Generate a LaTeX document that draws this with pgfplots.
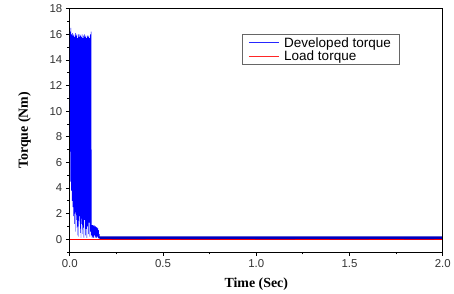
\documentclass[border=0pt]{standalone}
\usepackage{fontspec}
\setmainfont{Liberation Sans}
\newfontfamily\serifb{Liberation Serif}
\usepackage{pgfplots}
\pgfplotsset{compat=1.18}
\begin{document}
\begin{tikzpicture}
\begin{axis}[
  scale only axis,
  width=374bp, height=244bp,
  xmin=0, xmax=2, ymin=-1, ymax=18,
  xtick={0,0.5,1,1.5,2},
  minor xtick={0.25,0.75,1.25,1.75},
  ytick={0,2,4,6,8,10,12,14,16,18},
  minor ytick={-1,1,3,5,7,9,11,13,15,17},
  tick align=outside,
  major tick length=4bp,
  minor tick length=2.5bp,
  tick pos=left,
  axis line style={line width=0.9pt},
  every tick/.style={black, line width=0.8pt},
  /pgf/number format/assume math mode=true,
  xticklabel style={/pgf/number format/fixed, /pgf/number format/precision=1, /pgf/number format/fixed zerofill, font=\fontsize{11.5}{13}\selectfont, text=black!80},
  yticklabel style={font=\fontsize{11.5}{13}\selectfont, text=black!80},
  xlabel={\serifb\bfseries Time (Sec)},
  ylabel={\serifb\bfseries Torque (Nm)},
  label style={font=\fontsize{14}{16}\selectfont},
  xlabel style={yshift=-3bp},
  ylabel style={yshift=12bp},
  legend style={at={(rel axis cs:0.4626,0.896)}, anchor=north west, draw=black!60, line width=0.5pt,
    font=\fontsize{13.6}{13}\selectfont, inner xsep=6bp, inner ysep=1bp, row sep=-2bp,
    legend cell align=left,
    /tikz/every odd column/.append style={column sep=3bp}},
  legend image code/.code={\draw[#1] (0bp,0bp) -- (30bp,0bp);},
]
\addlegendimage{draw=blue!85, line width=0.75pt}
\addlegendentry{Developed torque}
\addlegendimage{draw=red!85, line width=0.75pt}
\addlegendentry{Load torque}
\addplot[blue, line width=0.45pt, forget plot] coordinates {
(0.000,8.0) (0.002,16.2) (0.004,4.5) (0.006,16.5) (0.008,3.8) (0.010,16.0)
(0.012,3.0) (0.014,16.1) (0.016,2.5) (0.018,15.9) (0.020,1.8) (0.022,16.0)
(0.024,1.2) (0.026,15.8) (0.028,2.0) (0.030,16.1) (0.032,0.6) (0.034,15.9)
(0.036,1.5) (0.038,16.0) (0.040,0.3) (0.042,15.7) (0.044,1.0) (0.046,16.0)
(0.048,0.2) (0.050,15.8) (0.052,1.8) (0.054,16.0) (0.056,0.5) (0.058,15.9)
(0.060,0.1) (0.062,15.8) (0.064,1.2) (0.066,16.0) (0.068,0.4) (0.070,15.7)
(0.072,0.9) (0.074,15.9) (0.076,0.1) (0.078,16.0) (0.080,1.5) (0.082,15.8)
(0.084,0.3) (0.086,15.9) (0.088,0.8) (0.090,15.7) (0.092,0.1) (0.094,15.9)
(0.096,1.0) (0.098,15.8) (0.100,0.4) (0.102,15.9) (0.104,1.3) (0.106,15.7)
(0.108,0.2) (0.110,16.0) (0.112,0.6) (0.114,16.2) (0.116,0.3)
(0.118,1.1) (0.120,0.1) (0.122,1.1) (0.124,0.2) (0.126,1.05) (0.128,0.1)
(0.130,1.1) (0.132,0.3) (0.134,1.0) (0.136,0.1) (0.138,1.0) (0.140,0.2)
(0.142,0.95) (0.144,0.1) (0.146,0.9) (0.148,0.2) (0.150,0.85) (0.152,0.1)
(0.154,0.7) (0.156,0.05) (0.158,0.4) (0.160,0.1)
};
\addplot[red, line width=0.5pt, forget plot] coordinates {(0,0) (2,0)};
\addplot[blue!75!black, line width=2.6pt, forget plot] coordinates {
(0.158,0.12) (0.3,0.11) (0.5,0.12) (0.7,0.11) (0.9,0.12) (1.1,0.11) (1.3,0.12) (1.5,0.11) (1.7,0.12) (1.9,0.11) (2.0,0.12)
};
\end{axis}
\draw[line width=1.4pt] (current axis.north east) -- (current axis.south east);
\path ([xshift=-70bp,yshift=-38.4bp]current axis.south west) rectangle ([xshift=10bp,yshift=8.7bp]current axis.north east);
\end{tikzpicture}
\end{document}
